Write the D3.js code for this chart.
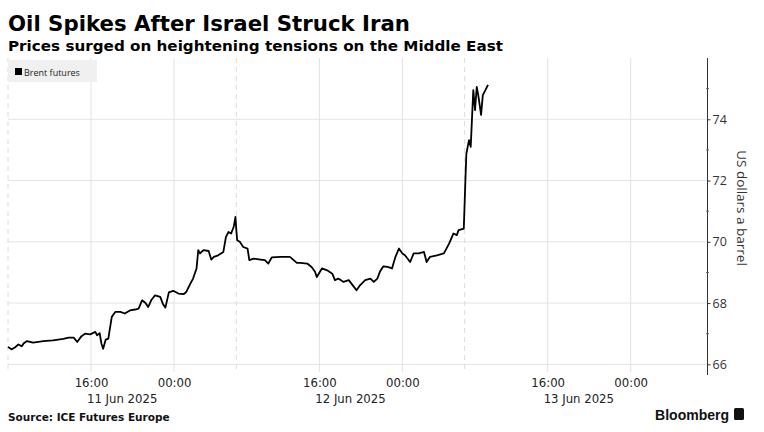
<!DOCTYPE html>
<html>
<head>
<meta charset="utf-8">
<script src="https://cdn.jsdelivr.net/npm/d3@7"></script>
<style>
  body { margin: 0; background: #fff; }
  svg { display: block; }
</style>
</head>
<body>
<svg width="764" height="432"></svg>
<script>
// Brent futures, Hong Kong time, ICE session 08:00 -> 06:00 next day
var times = [
  "2025-06-11 08:00","2025-06-11 08:20","2025-06-11 08:40","2025-06-11 09:00","2025-06-11 09:20",
  "2025-06-11 09:30","2025-06-11 09:50","2025-06-11 10:25","2025-06-11 11:25","2025-06-11 12:20",
  "2025-06-11 13:20","2025-06-11 13:50","2025-06-11 14:20","2025-06-11 14:40","2025-06-11 15:05",
  "2025-06-11 15:25","2025-06-11 15:55","2025-06-11 16:25","2025-06-11 16:35","2025-06-11 16:50",
  "2025-06-11 17:00","2025-06-11 17:10","2025-06-11 17:25","2025-06-11 17:40","2025-06-11 18:00",
  "2025-06-11 18:20","2025-06-11 18:50","2025-06-11 19:15","2025-06-11 19:45","2025-06-11 20:15",
  "2025-06-11 20:35","2025-06-11 20:55","2025-06-11 21:15","2025-06-11 21:30","2025-06-11 21:50",
  "2025-06-11 22:10","2025-06-11 22:40","2025-06-11 22:55","2025-06-11 23:10","2025-06-11 23:30",
  "2025-06-11 23:55","2025-06-12 00:25","2025-06-12 00:55","2025-06-12 01:10","2025-06-12 01:35",
  "2025-06-12 01:50","2025-06-12 02:10","2025-06-12 02:20","2025-06-12 02:30","2025-06-12 02:50",
  "2025-06-12 03:20","2025-06-12 03:35","2025-06-12 03:50","2025-06-12 04:15","2025-06-12 04:45",
  "2025-06-12 05:00","2025-06-12 05:15","2025-06-12 05:30","2025-06-12 05:45","2025-06-12 05:55",
  "2025-06-12 08:00","2025-06-12 08:05","2025-06-12 08:20","2025-06-12 08:40","2025-06-12 09:05",
  "2025-06-12 09:15","2025-06-12 09:40","2025-06-12 10:20","2025-06-12 10:45","2025-06-12 11:05",
  "2025-06-12 11:25","2025-06-12 12:15","2025-06-12 13:10","2025-06-12 13:50","2025-06-12 14:10",
  "2025-06-12 14:50","2025-06-12 15:15","2025-06-12 15:35","2025-06-12 15:45","2025-06-12 16:15",
  "2025-06-12 16:45","2025-06-12 17:15","2025-06-12 17:30","2025-06-12 17:50","2025-06-12 18:20",
  "2025-06-12 18:50","2025-06-12 19:20","2025-06-12 19:35","2025-06-12 19:55","2025-06-12 20:25",
  "2025-06-12 20:55","2025-06-12 21:15","2025-06-12 21:35","2025-06-12 21:50","2025-06-12 22:10",
  "2025-06-12 22:35","2025-06-12 23:00","2025-06-12 23:20","2025-06-12 23:40","2025-06-13 00:00",
  "2025-06-13 00:15","2025-06-13 00:45","2025-06-13 01:05","2025-06-13 01:35","2025-06-13 02:05",
  "2025-06-13 02:20","2025-06-13 02:40","2025-06-13 03:20","2025-06-13 04:00","2025-06-13 04:30",
  "2025-06-13 04:55","2025-06-13 05:15","2025-06-13 05:25","2025-06-13 05:55","2025-06-13 08:05",
  "2025-06-13 08:10","2025-06-13 08:25","2025-06-13 08:35","2025-06-13 08:50","2025-06-13 09:00",
  "2025-06-13 09:10","2025-06-13 09:20","2025-06-13 09:35","2025-06-13 09:45","2025-06-13 10:00",
  "2025-06-13 10:15"
];
var prices = [
  66.57,66.49,66.55,66.65,66.59, 66.68,66.76,66.71,66.76,66.78,
  66.83,66.87,66.87,66.73,66.92, 67.00,66.98,67.06,66.95,67.02,
  66.68,66.51,66.81,66.84,67.55, 67.71,67.71,67.66,67.76,67.79,
  67.82,68.09,68.00,67.87,68.11, 68.25,68.20,67.98,67.85,68.35,
  68.40,68.31,68.29,68.36,68.64, 68.80,69.13,69.73,69.62,69.73,
  69.70,69.42,69.51,69.56,69.67, 70.16,70.32,70.27,70.49,70.81,
  70.38,70.05,70.00,69.83,69.78, 69.40,69.45,69.42,69.40,69.29,
  69.49,69.51,69.51,69.31,69.31, 69.29,69.18,69.02,68.85,69.13,
  69.07,68.96,68.75,68.80,68.69, 68.75,68.53,68.42,68.58,68.75,
  68.80,68.69,68.80,69.02,69.20, 69.18,69.13,69.51,69.78,69.62,
  69.56,69.34,69.62,69.62,69.67, 69.34,69.51,69.56,69.62,69.94,
  70.27,70.22,70.38,70.43,72.12, 72.88,73.32,73.10,74.95,74.30,
  75.06,74.74,74.14,74.79,74.95, 75.12
];
var yTicks = [66, 68, 70, 72, 74];
var yMinor = [67, 69, 71, 73, 75];
var xTickTimes = ["2025-06-11 16:00","2025-06-12 00:00","2025-06-12 16:00",
                  "2025-06-13 00:00","2025-06-13 16:00","2025-06-14 00:00"];
var sessionStarts = ["2025-06-11 08:00","2025-06-12 08:00","2025-06-13 08:00"];
var dayLabels = ["11 Jun 2025","12 Jun 2025","13 Jun 2025"];
var dayLabelTimes = ["2025-06-11 19:00","2025-06-12 19:00","2025-06-13 19:00"];

var parse = d3.timeParse("%Y-%m-%d %H:%M");
var fmt = d3.timeFormat("%H:%M");
var t0 = parse(sessionStarts[0]);

// hours of trading since first open, skipping the 06:00-08:00 break
function tradeIdx(str) {
    var s = (parse(str) - t0) / 3600000;
    var k = Math.floor(s / 24);
    var off = s - 24 * k;
    return 22 * k + Math.min(off, 22);
}

var svg = d3.select('svg');
var plotLeft = 8, plotRight = 707.5, plotTop = 58, plotBottom = 372;

var x = d3.scaleLinear().domain([0, 67.4]).range([plotLeft, plotRight]);
var y = d3.scaleLinear().domain([65.75, 76]).range([plotBottom, plotTop]);

// titles
svg.append('text')
    .attr('x', 8).attr('y', 31)
    .attr('font-family', 'DejaVu Sans').attr('font-weight', 'bold')
    .attr('font-size', 21).attr('fill', '#000')
    .attr('textLength', 402).attr('lengthAdjust', 'spacingAndGlyphs')
    .text('Oil Spikes After Israel Struck Iran');

svg.append('text')
    .attr('x', 8).attr('y', 51)
    .attr('font-family', 'DejaVu Sans').attr('font-weight', 'bold')
    .attr('font-size', 14).attr('fill', '#000')
    .attr('textLength', 495).attr('lengthAdjust', 'spacingAndGlyphs')
    .text('Prices surged on heightening tensions on the Middle East');

// horizontal grid
svg.selectAll('line.hgrid')
    .data(yTicks)
    .enter()
    .append('line')
    .attr('x1', plotLeft).attr('x2', plotRight)
    .attr('y1', function(d){ return y(d) })
    .attr('y2', function(d){ return y(d) })
    .attr('stroke', '#e4e4e4')
    .attr('stroke-width', 1);

// vertical grid at time ticks
svg.selectAll('line.vgrid')
    .data(xTickTimes)
    .enter()
    .append('line')
    .attr('x1', function(d){ return x(tradeIdx(d)) })
    .attr('x2', function(d){ return x(tradeIdx(d)) })
    .attr('y1', plotTop).attr('y2', plotBottom)
    .attr('stroke', '#e2e2e2')
    .attr('stroke-width', 1);

// dashed session breaks
svg.selectAll('line.sess')
    .data(sessionStarts)
    .enter()
    .append('line')
    .attr('x1', function(d){ return x(tradeIdx(d)) })
    .attr('x2', function(d){ return x(tradeIdx(d)) })
    .attr('y1', plotTop).attr('y2', plotBottom)
    .attr('stroke', '#dcdcdc')
    .attr('stroke-dasharray', '5,4')
    .attr('stroke-width', 1);

// legend
svg.append('rect')
    .attr('x', 8).attr('y', 60).attr('width', 89).attr('height', 22)
    .attr('fill', '#f0f0f0');
svg.append('rect')
    .attr('x', 15).attr('y', 68).attr('width', 7).attr('height', 7)
    .attr('fill', '#000');
svg.append('text')
    .attr('x', 24).attr('y', 75.5)
    .attr('font-family', 'Open Sans').attr('font-size', 9)
    .attr('fill', '#222')
    .text('Brent futures');

// price line
var data = times.map(function(t, i){ return { t: t, v: prices[i] } });
var line = d3.line()
    .x(function(d){ return x(tradeIdx(d.t)) })
    .y(function(d){ return y(d.v) });

svg.append('path')
    .datum(data)
    .attr('d', line)
    .attr('fill', 'none')
    .attr('stroke', '#000')
    .attr('stroke-width', 1.8)
    .attr('stroke-linejoin', 'round');

// y axis on the right
var yAxis = d3.axisRight(y)
    .tickValues(yTicks)
    .tickSize(3)
    .tickPadding(2)
    .tickFormat(d3.format('d'));
var yg = svg.append('g')
    .attr('transform', 'translate(' + plotRight + ',0)')
    .call(yAxis);
yg.select('.domain').attr('stroke', '#333').attr('d', 'M0,' + plotTop + 'V' + (plotBottom + 3));
yg.selectAll('.tick line').attr('stroke', '#333');
yg.selectAll('.tick text')
    .attr('font-family', 'Open Sans').attr('font-size', 12.5).attr('fill', '#333');

svg.selectAll('line.minor')
    .data(yMinor)
    .enter()
    .append('line')
    .attr('x1', plotRight - 1.5).attr('x2', plotRight + 1.5)
    .attr('y1', function(d){ return y(d) })
    .attr('y2', function(d){ return y(d) })
    .attr('stroke', '#666');

svg.append('text')
    .attr('transform', 'translate(737,208) rotate(90)')
    .attr('text-anchor', 'middle')
    .attr('font-family', 'Open Sans').attr('font-size', 13.5)
    .attr('fill', '#333')
    .text('US dollars a barrel');

// x axis labels
var xAxis = d3.axisBottom(x)
    .tickValues(xTickTimes.map(tradeIdx))
    .tickSize(0)
    .tickPadding(0)
    .tickFormat(function(d, i){ return fmt(parse(xTickTimes[i])) });
var xg = svg.append('g')
    .attr('transform', 'translate(0,377)')
    .call(xAxis);
xg.select('.domain').remove();
xg.selectAll('.tick text')
    .attr('font-family', 'DejaVu Sans Condensed, DejaVu Sans')
    .attr('font-stretch', 'condensed')
    .attr('font-size', 13).attr('fill', '#222')
    .attr('dy', '0.75em');

svg.selectAll('text.day')
    .data(dayLabels)
    .enter()
    .append('text')
    .attr('x', function(d, i){ return x(tradeIdx(dayLabelTimes[i])) })
    .attr('y', 403)
    .attr('text-anchor', 'middle')
    .attr('font-family', 'DejaVu Sans Condensed, DejaVu Sans')
    .attr('font-stretch', 'condensed')
    .attr('font-size', 13).attr('fill', '#222')
    .text(function(d){ return d });

// footer
svg.append('text')
    .attr('x', 8).attr('y', 421)
    .attr('font-family', 'DejaVu Sans').attr('font-weight', 'bold')
    .attr('font-size', 10.5).attr('fill', '#111')
    .text('Source: ICE Futures Europe');

svg.append('text')
    .attr('x', 729).attr('y', 420)
    .attr('text-anchor', 'end')
    .attr('font-family', 'Liberation Sans').attr('font-weight', 'bold')
    .attr('font-size', 14).attr('fill', '#111')
    .text('Bloomberg');
svg.append('rect')
    .attr('x', 734).attr('y', 408).attr('width', 10).attr('height', 12)
    .attr('rx', 1.5)
    .attr('fill', '#111');
</script>
</body>
</html>
